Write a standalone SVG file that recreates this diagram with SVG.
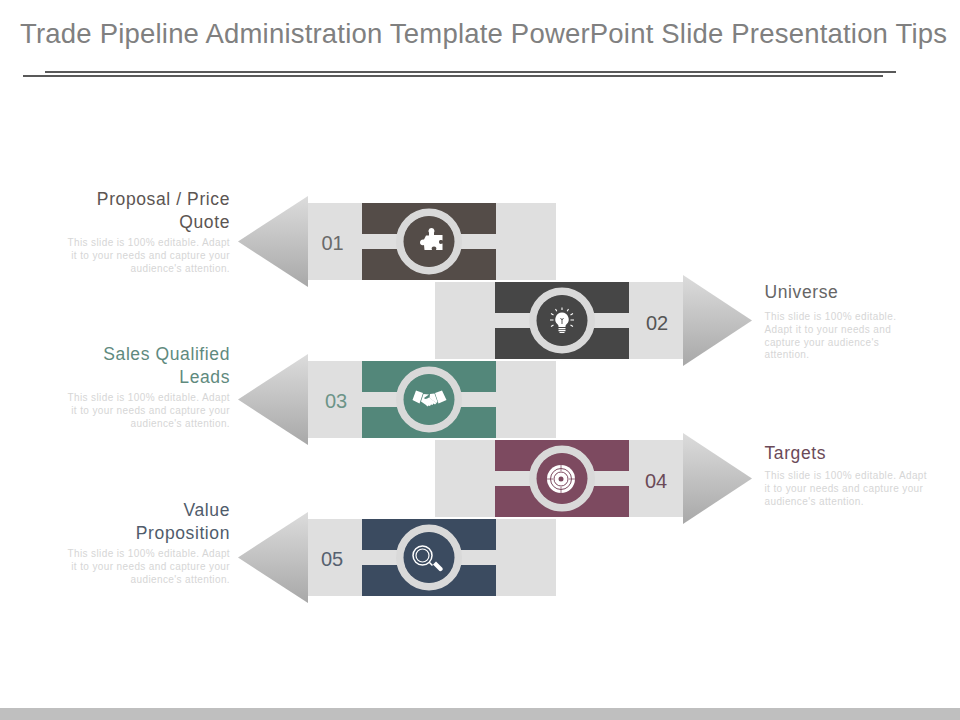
<svg xmlns="http://www.w3.org/2000/svg" width="960" height="720" viewBox="0 0 960 720">
<style>
text{font-family:"Liberation Sans",Arial,sans-serif}
.title{font-size:27.5px;fill:#808080}
.head{font-size:17.5px;letter-spacing:.6px}
.num{font-size:20px}
.body{font-size:10px;fill:#d6d6d6;letter-spacing:.38px}
.end{text-anchor:end}
.light{fill:#dfdfdf}
.ring{fill:none;stroke:#d9d9d9;stroke-width:8}
.ic{fill:#fff}
.il{fill:none;stroke:#fff}
</style>
<defs>
<linearGradient id="g" x1="0" y1="0" x2="0" y2="1"><stop offset="0" stop-color="#dcdcdc"/><stop offset="1" stop-color="#a8a8a8"/></linearGradient>
</defs>
<rect width="960" height="720" fill="#fff"/>
<text class="title" x="20" y="43" textLength="927" lengthAdjust="spacing">Trade Pipeline Administration Template PowerPoint Slide Presentation Tips</text>
<rect x="45" y="71" width="851" height="2" fill="#595959"/>
<rect x="23" y="75" width="860" height="2" fill="#595959"/>

<g id="node-01">
<rect class="light" x="308" y="203" width="248" height="77"/>
<polygon points="308,196 308,287 238,241.500" fill="url(#g)"/>
<rect x="362" y="203" width="134" height="31" fill="#544c48"/>
<rect x="362" y="249" width="134" height="31" fill="#544c48"/>
<circle cx="429" cy="241.500" r="29" fill="#544c48" class="ring"/>
<circle cx="429" cy="241.500" r="25.500" fill="#544c48"/>
<path class="ic" d="M429 232.500c-1-1-.5-4.500 2.500-4.500s3.500 3.500 2.500 4.500v2.500h8.500v5.500c-2-1-3.500-.5-3.500 1.500s1.500 2.500 3.500 1.500v6.500h-6.500c1-2 0-3.500-2-3.500s-3 1.500-2 3.500h-7.500l-.5-5c-2 .5-4 0-4-2.500s2-3.500 4-3l2-4h3z"/>
<text class="num" x="332.500" y="250" text-anchor="middle" fill="#6a6a6a">01</text>
<text class="head end" x="230" y="204.500" fill="#5c5552">Proposal / Price</text>
<text class="head end" x="230" y="228" fill="#5c5552">Quote</text>
<text class="body end" x="230" y="245.500">This slide is 100% editable. Adapt</text>
<text class="body end" x="230" y="258.500">it to your needs and capture your</text>
<text class="body end" x="230" y="271.500">audience's attention.</text>
</g>

<g id="node-02">
<rect class="light" x="435" y="282" width="248" height="77"/>
<polygon points="683,275 683,366 752,320.500" fill="url(#g)"/>
<rect x="495" y="282" width="134" height="31" fill="#464646"/>
<rect x="495" y="328" width="134" height="31" fill="#464646"/>
<circle cx="562" cy="320.500" r="29" fill="#464646" class="ring"/>
<circle cx="562" cy="320.500" r="25.500" fill="#464646"/>
<path class="ic" d="M562 312.500a6.800 6.800 0 0 1 4.500 11.800c-1 1-1 1.700-1 2.700h-7c0-1 0-1.700-1-2.700a6.800 6.800 0 0 1 4.500-11.800zM558.500 328h7v1.200h-7zM558.500 330h7v1.200h-7zM559.500 332h5v1h-5z"/>
<path d="M560.500 318l1.500 2 1.500-2M562 320v4" fill="none" stroke="#464646" stroke-width=".9"/>
<path class="il" stroke-width="1.100" d="M562 307.500v2.500M555.500 309l1.300 2.300M568.500 309l-1.300 2.300M550 320h3.500M570.500 320h3.500M551 313.500l2.500 1.400M573 313.500l-2.500 1.400M551 326.500l2.500-1.400M573 326.500l-2.500-1.400"/>
<text class="num" x="657" y="330" text-anchor="middle" fill="#555">02</text>
<text class="head" x="764.500" y="298" fill="#666">Universe</text>
<text class="body" x="764.500" y="319.500">This slide is 100% editable.</text>
<text class="body" x="764.500" y="332.500">Adapt it to your needs and</text>
<text class="body" x="764.500" y="345.500">capture your audience's</text>
<text class="body" x="764.500" y="358">attention.</text>
</g>

<g id="node-03">
<rect class="light" x="308" y="361" width="248" height="77"/>
<polygon points="308,354 308,445 238,399.500" fill="url(#g)"/>
<rect x="362" y="361" width="134" height="31" fill="#53877a"/>
<rect x="362" y="407" width="134" height="31" fill="#53877a"/>
<circle cx="429" cy="399.500" r="29" fill="#53877a" class="ring"/>
<circle cx="429" cy="399.500" r="25.500" fill="#53877a"/>
<path class="ic" d="M416 390.500l7 2.500-3.500 10.500-7-3.500zM442 390.500l-7 2.500 3.500 10.500 8-3.500zM423.500 394l5.500.5-5 3.500c1 1.500 3 1 5-.5l7.500 5.500-1.500 1.500-1.500-1-1 1.500-1.500-.5-1 1.500-1.500-.5-1 1-1.500-1.500-5-3.500z"/>
<path class="ic" d="M430 394l4.500-.5 3 8.500-1.200 1-6.800-5z"/>
<text class="num" x="336" y="408" text-anchor="middle" fill="#6c9488">03</text>
<text class="head end" x="230" y="359.500" fill="#5f8a7e">Sales Qualified</text>
<text class="head end" x="230" y="382.500" fill="#5f8a7e">Leads</text>
<text class="body end" x="230" y="400.500">This slide is 100% editable. Adapt</text>
<text class="body end" x="230" y="413.500">it to your needs and capture your</text>
<text class="body end" x="230" y="426.500">audience's attention.</text>
</g>

<g id="node-04">
<rect class="light" x="435" y="440" width="248" height="77"/>
<polygon points="683,433 683,524 752,478.500" fill="url(#g)"/>
<rect x="495" y="440" width="134" height="31" fill="#7d4a60"/>
<rect x="495" y="486" width="134" height="31" fill="#7d4a60"/>
<circle cx="562" cy="478.500" r="29" fill="#7d4a60" class="ring"/>
<circle cx="562" cy="478.500" r="25.500" fill="#7d4a60"/>
<circle class="ic" cx="561" cy="479" r="14"/>
<circle cx="561" cy="479" r="10.500" fill="none" stroke="#7d4a60" stroke-width="1"/>
<circle cx="561" cy="479" r="7" fill="none" stroke="#7d4a60" stroke-width="1"/>
<circle cx="561" cy="479" r="2.500" fill="#7d4a60"/>
<path d="M561 465v6M561 487v6M547 479h6M569 479h6" fill="none" stroke="#7d4a60" stroke-width=".8"/>
<text class="num" x="656" y="488" text-anchor="middle" fill="#6b4a58">04</text>
<text class="head" x="764.500" y="458.500" fill="#6b4a58">Targets</text>
<text class="body" x="764.500" y="479">This slide is 100% editable. Adapt</text>
<text class="body" x="764.500" y="492">it to your needs and capture your</text>
<text class="body" x="764.500" y="505">audience's attention.</text>
</g>

<g id="node-05">
<rect class="light" x="308" y="519" width="248" height="77"/>
<polygon points="308,512 308,603 238,557.500" fill="url(#g)"/>
<rect x="362" y="519" width="134" height="31" fill="#3b4b60"/>
<rect x="362" y="565" width="134" height="31" fill="#3b4b60"/>
<circle cx="429" cy="557.500" r="29" fill="#3b4b60" class="ring"/>
<circle cx="429" cy="557.500" r="25.500" fill="#3b4b60"/>
<circle class="il" cx="422.500" cy="555.500" r="9.500" stroke-width="1.500"/>
<circle class="il" cx="422.500" cy="555.500" r="6.500" stroke-width="1.200"/>
<path class="il" stroke-width="1.500" d="M429.500 562.500l3 3"/>
<path class="ic" d="M433 564.500l3-3 6.500 6.500q.8 1.500-.5 2.500t-2.500.5z"/>
<text class="num" x="332" y="566" text-anchor="middle" fill="#566170">05</text>
<text class="head end" x="230" y="515.500" fill="#505c6b">Value</text>
<text class="head end" x="230" y="539" fill="#505c6b">Proposition</text>
<text class="body end" x="230" y="556.500">This slide is 100% editable. Adapt</text>
<text class="body end" x="230" y="569.500">it to your needs and capture your</text>
<text class="body end" x="230" y="582.500">audience's attention.</text>
</g>

<rect x="0" y="708" width="960" height="12" fill="#bfbfbf"/>
</svg>
